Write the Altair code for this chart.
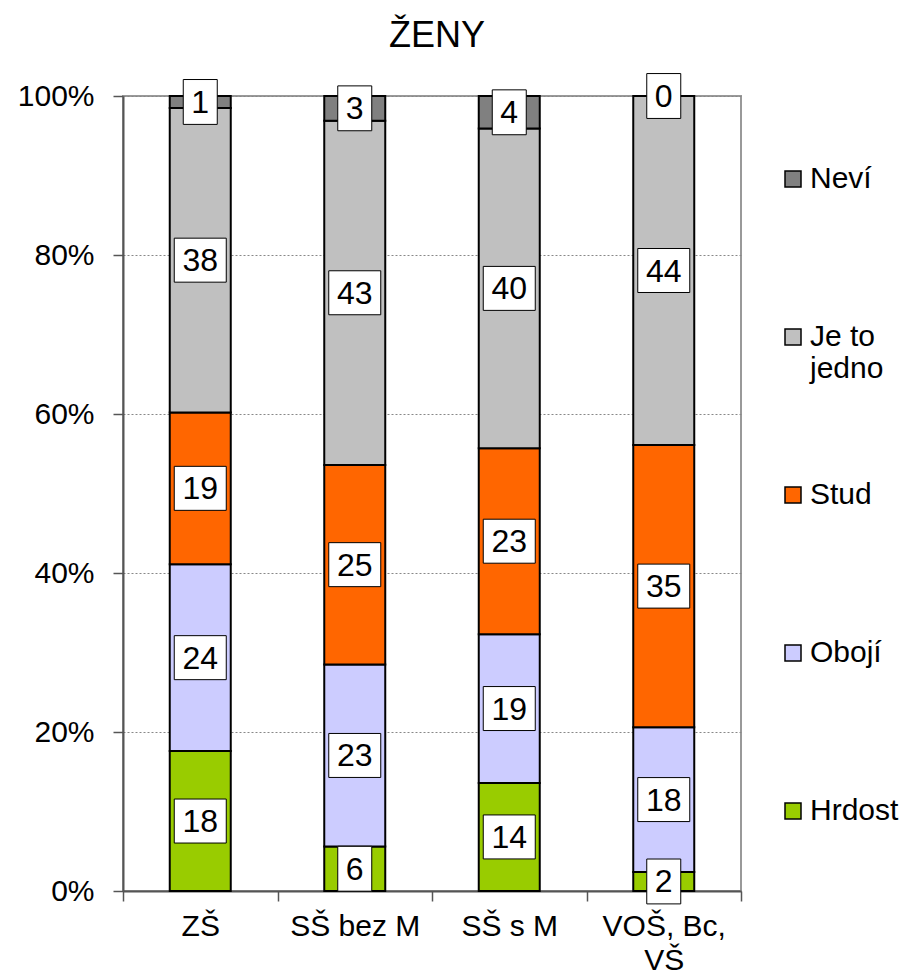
import altair as alt
import pandas as pd

categories = ["ZŠ", "SŠ bez M", "SŠ s M", "VOŠ, Bc, VŠ"]
series = ["Hrdost", "Obojí", "Stud", "Je to jedno", "Neví"]
colors = ["#99CC00", "#CCCCFF", "#FF6600", "#C0C0C0", "#808080"]

# segment shares (%)
hrdost = [17.6, 5.6, 13.6, 2.4]
oboji = [23.5, 22.9, 18.7, 18.2]
stud = [19.1, 25.1, 23.4, 35.5]
jedno = [38.3, 43.3, 40.2, 43.9]
nevi = [1.5, 3.1, 4.1, 0.0]

# numbers printed in the boxes
lab_hrdost = [18, 6, 14, 2]
lab_oboji = [24, 23, 19, 18]
lab_stud = [19, 25, 23, 35]
lab_jedno = [38, 43, 40, 44]
lab_nevi = [1, 3, 4, 0]

y_ticks = [0, 0.2, 0.4, 0.6, 0.8, 1.0]

vals = [hrdost, oboji, stud, jedno, nevi]
labs = [lab_hrdost, lab_oboji, lab_stud, lab_jedno, lab_nevi]

rows = []
for ci, cat in enumerate(categories):
    total = sum(v[ci] for v in vals)
    acc = 0.0
    for si, s in enumerate(series):
        v = vals[si][ci]
        y0 = acc / total
        acc += v
        y1 = acc / total
        rows.append({"cat": cat, "series": s, "y0": y0, "y1": y1,
                     "mid": (y0 + y1) / 2, "label": labs[si][ci]})
df = pd.DataFrame(rows)

FONT = "Liberation Sans"
legend_order = series[::-1]
legend_colors = colors[::-1]

x_enc = alt.X(
    "cat:N", sort=categories,
    scale=alt.Scale(paddingInner=0, paddingOuter=0),
    axis=alt.Axis(
        title=None, labelAngle=0, labelFont=FONT, labelFontSize=30,
        labelColor="black", tickBand="extent", tickSize=10, tickColor="#555555",
        tickWidth=1.5, domainColor="#555555", domainWidth=2, labelPadding=10,
        labelLineHeight=34, labelLimit=400, grid=False,
        labelExpr="datum.label == 'VOŠ, Bc, VŠ' ? ['VOŠ, Bc,', 'VŠ'] : datum.label",
    ),
)
y_scale = alt.Scale(domain=[0, 1], nice=False, zero=True)

bars = alt.Chart(df).mark_bar(size=61, stroke="black", strokeWidth=2).encode(
    x=x_enc,
    y=alt.Y(
        "y0:Q", scale=y_scale,
        axis=alt.Axis(
            title=None, values=y_ticks, format=".0%", labelFont=FONT,
            labelFontSize=30, labelColor="black", tickSize=10,
            tickColor="#555555", tickWidth=1.5, domainColor="#555555",
            domainWidth=2, labelPadding=19, grid=True, gridColor="#888888",
            gridDash=[2, 2], gridWidth=1,
        ),
    ),
    y2="y1:Q",
    color=alt.Color(
        "series:N",
        scale=alt.Scale(domain=legend_order, range=legend_colors),
        legend=alt.Legend(
            title=None, orient="none", legendX=655, legendY=68,
            symbolType="square", symbolSize=256, symbolStrokeColor="black",
            symbolStrokeWidth=1.5, symbolOpacity=1, labelFont=FONT,
            labelFontSize=30, labelColor="black", labelOffset=2,
            rowPadding=96, labelLimit=300,
            labelExpr="datum.label == 'Je to jedno' ? ['Je to', 'jedno'] : [datum.label, '']",
        ),
    ),
)

path_narrow = "M-1,-1.32L1,-1.32L1,1.32L-1,1.32Z"
path_wide = "M-1,-0.846L1,-0.846L1,0.846L-1,0.846Z"

boxes = alt.Chart(df).mark_point(
    filled=True, fill="white", stroke="black", strokeWidth=1, opacity=1
).encode(
    x=alt.X("cat:N", sort=categories),
    y=alt.Y("mid:Q", scale=y_scale),
    shape=alt.condition("datum.label >= 10", alt.value(path_wide), alt.value(path_narrow)),
    size=alt.condition("datum.label >= 10", alt.value(2704), alt.value(1156)),
)

texts = alt.Chart(df).mark_text(
    font=FONT, fontSize=32, color="black", baseline="middle", align="center", dy=1
).encode(
    x=alt.X("cat:N", sort=categories),
    y=alt.Y("mid:Q", scale=y_scale),
    text=alt.Text("label:Q", format="d"),
)

chart = alt.layer(bars, boxes, texts).properties(
    width=618, height=795,
    title=alt.Title("ŽENY", font=FONT, fontSize=36, fontWeight="normal",
                    color="black", anchor="middle", dx=5, offset=17),
    autosize=alt.AutoSizeParams(type="none"),
    padding={"left": 115, "top": 88, "right": 158, "bottom": 84},
).configure_view(stroke="#999999", strokeWidth=2)

chart.save("out.html", embed_options={"renderer": "svg", "actions": False})
